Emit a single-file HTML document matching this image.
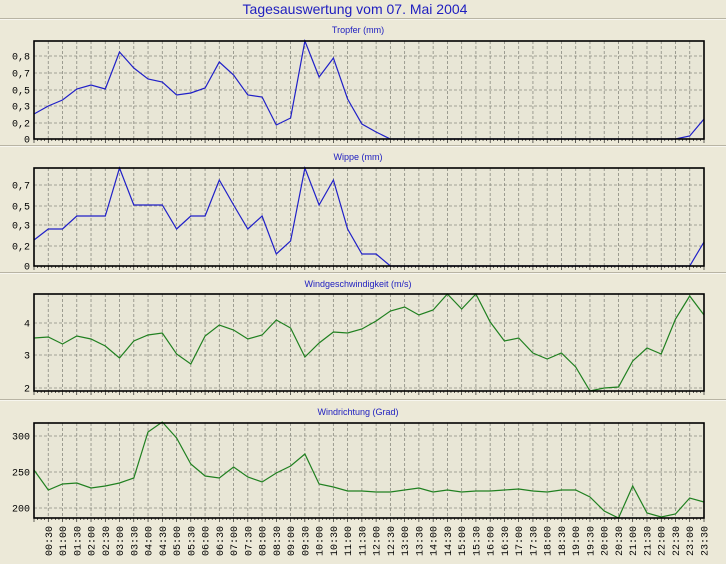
<!DOCTYPE html>
<html><head><meta charset="utf-8"><style>
html,body{margin:0;padding:0;background:#ECE9D8;}
svg{display:block}
</style></head><body>
<svg id="s" width="726" height="564" xmlns="http://www.w3.org/2000/svg" font-family="Liberation Sans, sans-serif">
<rect width="726" height="564" fill="#ECE9D8"/>
<text x="355" y="14" text-anchor="middle" font-size="14" fill="#2020C0">Tagesauswertung vom 07. Mai 2004</text>
</svg>
<script>
var s=document.getElementById('s'),NS='http://www.w3.org/2000/svg';
function el(t,a,txt){var e=document.createElementNS(NS,t);for(var k in a)e.setAttribute(k,a[k]);if(txt!=null)e.textContent=txt;s.appendChild(e);return e;}
var X0=34,X1=704,dx=(X1-X0)/47;
function X(i){return X0+i*dx;}
[18,145,272,399].forEach(function(y){el('line',{x1:0,x2:726,y1:y+0.5,y2:y+0.5,stroke:'#B8B4A4'});el('line',{x1:0,x2:726,y1:y+1.5,y2:y+1.5,stroke:'#FFFFFF','stroke-opacity':0.6});});
var panels=[
{title:'Tropfer (mm)',ty:33,top:41,bot:139,col:'#2020C8',grid:[[139,'0'],[123,'0,2'],[106,'0,3'],[90,'0,5'],[73,'0,7'],[56,'0,8']],
 d:[114,106,100,89,85,89,52,68,79,82,95,93,88,62,75,95,97,125,118,41,77,58,99,124,132,139,139,139,139,139,139,139,139,139,139,139,139,139,139,139,139,139,139,139,139,139,136,119]},
{title:'Wippe (mm)',ty:160,top:168,bot:266,col:'#2020C8',grid:[[266,'0'],[246,'0,2'],[225,'0,3'],[206,'0,5'],[185,'0,7']],
 d:[240,229,229,216,216,216,168,205,205,205,229,216,216,180,205,229,216,254,241,168,205,180,229,254,254,266,266,266,266,266,266,266,266,266,266,266,266,266,266,266,266,266,266,266,266,266,266,242]},
{title:'Windgeschwindigkeit (m/s)',ty:287,top:294,bot:391,col:'#208020',grid:[[388,'2'],[355,'3'],[323,'4']],
 d:[338,337,344,336,339,346,358,341,335,333,354,364,336,325,330,339,335,320,328,357,343,332,333,329,321,311,307,315,310,294,309,294,322,341,338,353,359,353,367,391,388,387,361,348,354,319,296,315]},
{title:'Windrichtung (Grad)',ty:415,top:423,bot:518,col:'#208020',grid:[[508,'200'],[472,'250'],[436,'300']],
 d:[470,490,484,483,488,486,483,478,432,422,438,464,476,478,467,477,482,473,466,454,484,487,491,491,492,492,490,488,492,490,492,491,491,490,489,491,492,490,490,497,511,518,486,513,517,514,498,502]}
];
panels.forEach(function(p){
 el('text',{x:358,y:p.ty,'text-anchor':'middle','font-size':9,fill:'#2020C0'},p.title);
 el('rect',{x:X0,y:p.top,width:X1-X0,height:p.bot-p.top,fill:'#E8E6D6'});
 for(var i=1;i<47;i++)el('line',{x1:X(i),x2:X(i),y1:p.top,y2:p.bot,stroke:'#8A8A80','stroke-dasharray':'3,2','stroke-width':0.8});
 p.grid.forEach(function(g){
  if(g[0]<p.bot-2)el('line',{x1:X0,x2:X1,y1:g[0],y2:g[0],stroke:'#8A8A80','stroke-dasharray':'3,2','stroke-width':0.8});
  el('text',{x:X0-4,y:g[0]+3.5,'text-anchor':'end','font-size':10,'font-family':'Liberation Mono, monospace',fill:'#000'},g[1]);
 });
 var pts=p.d.map(function(v,i){return X(i).toFixed(1)+','+v;}).join(' ');
 el('polyline',{points:pts,fill:'none',stroke:p.col,'stroke-width':1.2});
 for(var i=0;i<=47*4;i++){var x=X0+i*dx/4;el('line',{x1:x,x2:x,y1:p.bot,y2:p.bot+(i%4==0?4:2),stroke:'#000','stroke-width':0.6});}
 el('rect',{x:X0,y:p.top,width:X1-X0,height:p.bot-p.top,fill:'none',stroke:'#000','stroke-width':1.6});
});
for(var i=1;i<48;i++){
 var h=Math.floor(i/2),m=i%2?'30':'00';var t=(h<10?'0':'')+h+':'+m;
 el('text',{transform:'translate('+(X(i)+3.5)+',556) rotate(-90)','font-size':10,'font-family':'Liberation Mono, monospace',fill:'#000'},t);
}
</script>
</body></html>
